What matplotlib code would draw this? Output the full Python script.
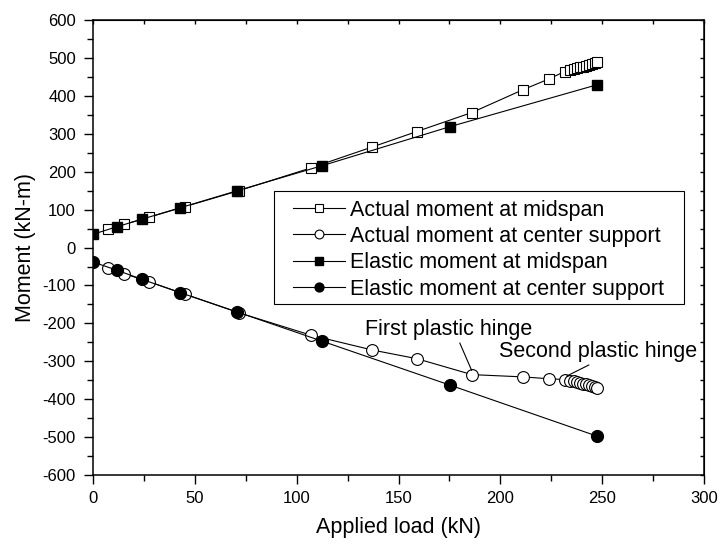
import matplotlib
matplotlib.use('Agg')
import matplotlib.pyplot as plt
from matplotlib.patches import Rectangle
from matplotlib.ticker import MultipleLocator

plt.rcParams['font.family'] = ['Liberation Sans', 'DejaVu Sans']
plt.rcParams['axes.unicode_minus'] = False

# -------------------------------
# Dati
# -------------------------------
load_actual = [7.2, 15.4, 27.5, 45.2, 71.7, 107, 137, 159, 186, 211, 224, 231.5,
               234, 236, 237.5, 239, 240.5, 242, 243.5, 245, 246.5, 247.5]
actual_mid = [48, 61, 80, 108, 150, 210, 265, 306, 356, 416, 445, 464,
              467, 470, 473, 475, 477, 480, 482, 485, 487, 490]
actual_support = [-53, -69, -90, -123, -172, -231, -270, -293, -335, -341, -346, -348,
                  -351, -353, -355, -357, -359, -361, -363, -365, -368, -371]

load_elastic = [0, 11.9, 24.2, 42.9, 70.9, 112.6, 175.4, 247.3]
elastic_mid = [35, 55, 75, 105, 150, 216, 319, 429]
elastic_support = [-38, -60, -84, -119, -170, -247, -363, -497]

labels = ["Actual moment at midspan", "Actual moment at center support",
          "Elastic moment at midspan", "Elastic moment at center support"]

# -------------------------------
# Figura
# -------------------------------
fig = plt.figure(figsize=(7.2, 5.48), dpi=100)
ax = fig.add_axes([0.129, 0.133, 0.849, 0.8305])

lw = 0.8
ax.plot(load_actual, actual_mid, '-s', color='black', lw=lw, ms=7.5,
        mfc='white', mec='black', mew=0.8, label=labels[0], zorder=3)
ax.plot(load_actual, actual_support, '-o', color='black', lw=lw, ms=8.5,
        mfc='white', mec='black', mew=0.8, label=labels[1], zorder=3)
ax.plot(load_elastic, elastic_mid, '-s', color='black', lw=lw, ms=7.5,
        mfc='black', mec='black', label=labels[2], zorder=4)
ax.plot(load_elastic, elastic_support, '-o', color='black', lw=lw, ms=8.5,
        mfc='black', mec='black', label=labels[3], zorder=4)

ax.set_xlim(0, 300)
ax.set_ylim(-600, 600)
ax.xaxis.set_major_locator(MultipleLocator(50))
ax.xaxis.set_minor_locator(MultipleLocator(25))
ax.yaxis.set_major_locator(MultipleLocator(100))
ax.yaxis.set_minor_locator(MultipleLocator(50))

ax.tick_params(which='major', direction='out', length=6.2, width=1, labelsize=12, pad=6)
ax.tick_params(axis='x', which='major', pad=5)
ax.tick_params(which='minor', direction='out', length=4.5, width=1)
for s in ax.spines.values():
    s.set_linewidth(1.1)

# assi superiore e destro con tacche senza etichette
top = ax.secondary_xaxis('top')
top.xaxis.set_major_locator(MultipleLocator(25))
top.tick_params(direction='in', length=3, width=1, labeltop=False)
right = ax.secondary_yaxis('right')
right.yaxis.set_major_locator(MultipleLocator(50))
right.tick_params(direction='in', length=3, width=1, labelright=False)

ax.set_xlabel("Applied load (kN)", fontsize=15.5, labelpad=8)
ax.set_ylabel("Moment (kN-m)", fontsize=15.5, labelpad=5)

# Annotazioni cerniere plastiche
ax.annotate("First plastic hinge", xy=(185.9, -324), xytext=(133.5, -231),
            fontsize=15.5, va='baseline', ha='left',
            arrowprops=dict(arrowstyle='-', color='black', lw=0.8,
                            shrinkA=0, shrinkB=0, relpos=(0.56, 0)))
ax.annotate("Second plastic hinge", xy=(232.5, -339), xytext=(199.5, -289),
            fontsize=15.5, va='baseline', ha='left',
            arrowprops=dict(arrowstyle='-', color='black', lw=0.8,
                            shrinkA=0, shrinkB=0, relpos=(0.48, 0)))

# Legenda: riquadro disegnato a parte per avere il margine sinistro largo
ax.add_patch(Rectangle((0.2962, 0.3758), 0.6710, 0.2484, transform=ax.transAxes,
                       fill=True, facecolor='white', edgecolor='black', lw=0.8, zorder=5))
leg = ax.legend(loc='upper left', bbox_to_anchor=(0.3273, 0.6055), fontsize=15.5,
                frameon=False, markerscale=0.75,
                handlelength=2.4, handletextpad=0.25, labelspacing=0.25,
                borderpad=0, borderaxespad=0)
leg.set_zorder(6)

fig.savefig("out.png", dpi=100)
